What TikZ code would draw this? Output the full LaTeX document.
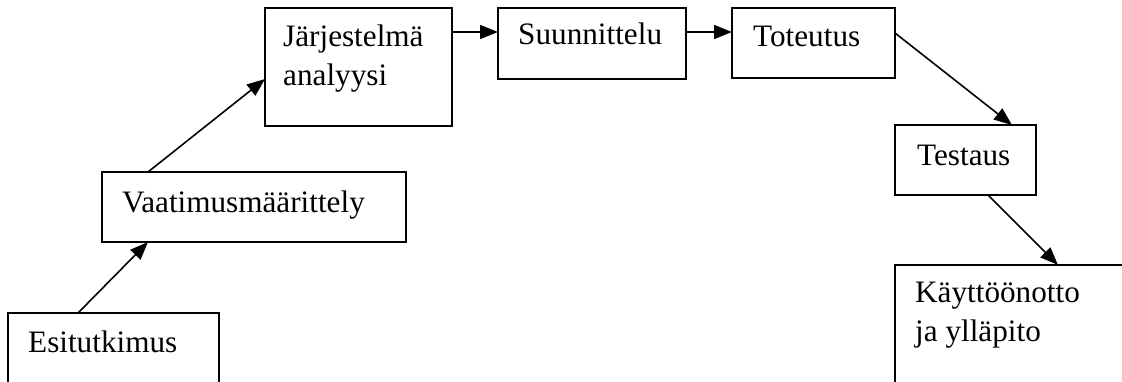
\documentclass[tikz,border=0pt]{standalone}
\usepackage{fontspec}
\setmainfont{Liberation Serif}
\usetikzlibrary{arrows.meta}
\begin{document}
\begin{tikzpicture}[x=1pt,y=-1pt,
  phase/.style={draw, line width=1.6pt, inner sep=0pt, outer sep=0pt, anchor=north west},
  % multi-line labels sit on the baseline of their last line
  label/.style={inner sep=0pt, anchor=base west, align=left,
    font=\fontsize{31.2}{39}\selectfont},
  flow/.style={line width=1.6pt, -{Triangle[length=18pt,width=14pt]}}]
\useasboundingbox (0,0) rectangle (1122,381);
\clip (0,0) rectangle (1122,381);

% phase boxes (the last ones run past the lower and right edges)
\node[phase, minimum width=211pt, minimum height=120pt] (esi) at (8,313) {};
\node[phase, minimum width=304pt, minimum height=70pt] (vaa) at (102,172) {};
\node[phase, minimum width=187pt, minimum height=118pt] (jar) at (265,8) {};
\node[phase, minimum width=188pt, minimum height=71pt] (suu) at (498,8) {};
\node[phase, minimum width=163pt, minimum height=70pt] (tot) at (732,8) {};
\node[phase, minimum width=141pt, minimum height=70pt] (tes) at (895,125) {};
\node[phase, minimum width=300pt, minimum height=200pt] (kay) at (895,265) {};

% texts
\node[label] (esitext) at (28,352) {Esitutkimus};
\node[label] (vaatext) at (122,212) {Vaatimusmäärittely};
\node[label] (jartext) at (283,85) {Järjestelmä\\analyysi};
\node[label] (suutext) at (518,44) {Suunnittelu};
\node[label] (tottext) at (753,46) {Toteutus};
\node[label] (testext) at (917,165) {Testaus};
\node[label] (kaytext) at (915,341) {Käyttöönotto\\ja ylläpito};

% connectors
\draw[flow] ([xshift=70pt]esi.north west) -- ([xshift=46pt]vaa.south west);
\draw[flow] ([xshift=46pt]vaa.north west) -- ([yshift=-71pt]jar.north west);
\draw[flow] ([yshift=-24pt]jar.north east) -- ([yshift=-24pt]suu.north west);
\draw[flow] ([yshift=-24pt]suu.north east) -- ([yshift=-24pt]tot.north west);
\draw[flow] ([yshift=-25pt]tot.north east) -- ([xshift=117pt]tes.north west);
\draw[flow] ([xshift=93pt]tes.south west) -- ([xshift=163pt]kay.north west);
\end{tikzpicture}
\end{document}
